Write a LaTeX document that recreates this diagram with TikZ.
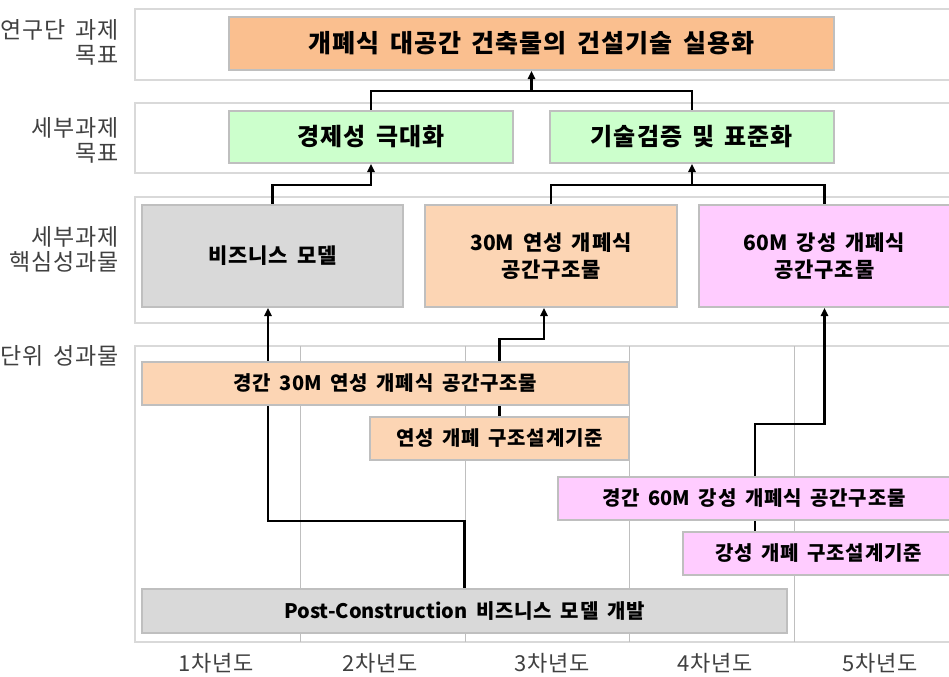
\documentclass[tikz,border=0pt]{standalone}
\usepackage{fontspec}
\newfontfamily\kr[LetterSpace=4,WordSpace=1.6]{Noto Sans CJK KR}
\newfontfamily\krlat{Noto Sans CJK KR}
\usetikzlibrary{arrows.meta}
\pgfdeclarelayer{back}
\pgfdeclarelayer{mid}
\pgfsetlayers{back,mid,main}
\definecolor{orgdark}{HTML}{FABF8F}
\definecolor{orglight}{HTML}{FCD5B4}
\definecolor{grn}{HTML}{CCFFCC}
\definecolor{gry}{HTML}{D9D9D9}
\definecolor{pnk}{HTML}{FFCCFF}
\definecolor{edge}{HTML}{BFBFBF}
\definecolor{labtxt}{HTML}{404040}
\begin{document}
\begin{tikzpicture}[x=0.5pt,y=-0.5pt,
    box/.style={draw=edge,line width=1pt,align=center,inner sep=0pt},
    goalbox/.style={box,font=\kr\bfseries\fontsize{12.5}{15}\selectfont},
    aimbox/.style={box,font=\kr\bfseries\fontsize{12}{15}\selectfont,fill=grn,minimum width=142pt,minimum height=26pt},
    corebox/.style={box,font=\kr\bfseries\fontsize{10.5}{13.5}\selectfont,minimum height=51pt},
    unitbox/.style={box,font=\kr\bfseries\fontsize{10}{12}\selectfont,minimum height=21.5pt},
    panel/.style={draw=gry,line width=1.2pt,fill=white},
    grid line/.style={draw=edge,line width=0.5pt},
    link/.style={line width=1.2pt},
    arr/.style={link,-{Triangle[length=4pt,width=3.6pt]}},
    rowlab/.style={anchor=east,align=right,text=labtxt,font=\kr\fontsize{11.5}{12.5}\selectfont}]
  \useasboundingbox (0,0) rectangle (949,676);
  % rows and year columns
  \begin{pgfonlayer}{back}
    \draw[panel] (135,9) rectangle (960,80);
    \draw[panel] (135,103) rectangle (960,173);
    \draw[panel] (135,197) rectangle (960,323);
    \draw[panel] (135,346) rectangle (960,642);
    \foreach \x in {300,465,629,794}
      { \draw[grid line] (\x,346) -- (\x,642); }
  \end{pgfonlayer}
  % row labels
  \node[rowlab] (lgoal) at (126,42) {연구단 과제\\목표};
  \node[rowlab] (laim) at (126,140) {세부과제\\목표};
  \node[rowlab] (lcore) at (126,249) {세부과제\\핵심성과물};
  \node[rowlab] (lunit) at (126,356) {단위 성과물};
  \foreach \x/\n in {216/1,380/2,552/3,715/4,880/5}
    { \node[text=labtxt,font=\kr\fontsize{11}{12.5}\selectfont] (yr\n) at (\x,663) {\n{}차년도}; }
  % goal and sub-goals
  \node[goalbox,fill=orgdark,minimum width=302.5pt,minimum height=26.5pt] (goal) at (531.5,43.5) {개폐식 대공간 건축물의 건설기술 실용화};
  \node[aimbox] (econ) at (371,137) {경제성 극대화};
  \node[aimbox] (tech) at (692,137) {기술검증 및 표준화};
  % core results
  \node[corebox,fill=gry,minimum width=130.5pt] (biz) at (272.5,256) {비즈니스 모델};
  \node[corebox,fill=orglight,minimum width=126pt] (soft30) at (551,256) {{\krlat 30M} 연성 개폐식\\공간구조물};
  \node[corebox,fill=pnk,minimum width=125.5pt] (rigid60) at (824.5,256) {{\krlat 60M} 강성 개폐식\\공간구조물};
  % unit results
  \node[unitbox,fill=orglight,minimum width=243.5pt] (unit1) at (385.5,383.5) {경간 {\krlat 30M} 연성 개폐식 공간구조물};
  \node[unitbox,fill=orglight,minimum width=129.5pt] (unit2) at (499.5,438.5) {연성 개폐 구조설계기준};
  \node[unitbox,fill=pnk,minimum width=196pt] (unit3) at (754,498) {경간 {\krlat 60M} 강성 개폐식 공간구조물};
  \node[unitbox,fill=pnk,minimum width=135.5pt] (unit4) at (818.5,553) {강성 개폐 구조설계기준};
  \node[unitbox,fill=gry,minimum width=322.5pt,minimum height=22pt] (post) at (464.5,611) {{\krlat Post-Construction} 비즈니스 모델 개발};
  % connectors
  \begin{pgfonlayer}{mid}
    \coordinate (j1) at (531.5,91);
    \coordinate (j2) at (371,185);
    \coordinate (j3) at (692,185);
    \coordinate (d1) at (268,521);
    \coordinate (e1) at (499.5,339);
    \coordinate (e2) at (544,339);
    \coordinate (f1) at (755,424);
    \draw[link] (econ.north) |- (j1) -| (tech.north);
    \draw[arr] (j1) -- (goal.south);
    \draw[arr] (biz.north) |- (j2) -- (econ.south);
    \draw[link] (soft30.north) |- (j3) -| (rigid60.north);
    \draw[arr] (j3) -- (tech.south);
    \draw[arr] (post.north) |- (d1) -- (d1 |- biz.south);
    \draw[arr] (unit2.north) -- (e1) -- (e2) -- (e2 |- soft30.south);
    \draw[arr] (unit4.north -| f1) -- (f1) -| (rigid60.south);
  \end{pgfonlayer}
\end{tikzpicture}
\end{document}
